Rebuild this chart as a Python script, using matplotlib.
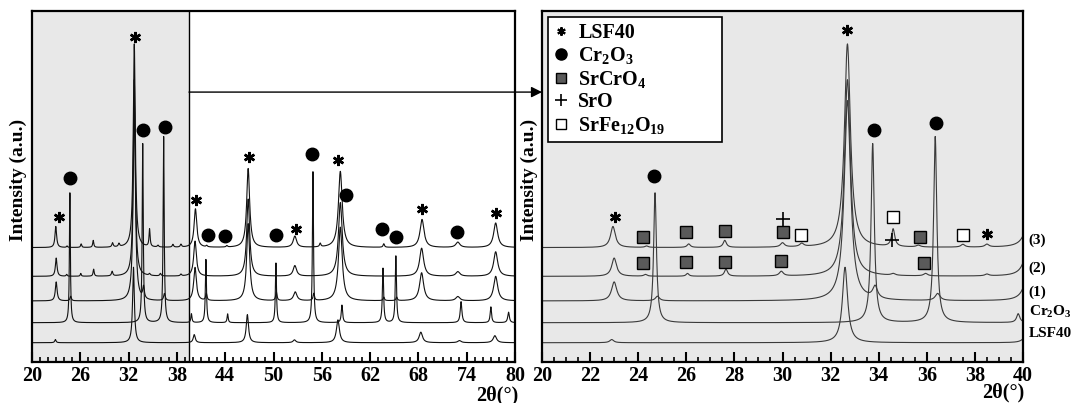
import matplotlib
matplotlib.use("Agg")
import matplotlib.pyplot as plt
import numpy as np
from matplotlib.lines import Line2D

plt.rcParams['font.family'] = ['Liberation Serif', 'DejaVu Serif']
plt.rcParams['font.weight'] = 'bold'
plt.rcParams['mathtext.fontset'] = 'custom'
plt.rcParams['mathtext.rm'] = 'Liberation Serif:bold'
plt.rcParams['mathtext.it'] = 'Liberation Serif:bold'
plt.rcParams['mathtext.bf'] = 'Liberation Serif:bold'
plt.rcParams['mathtext.default'] = 'rm'

# ---- peak lists for each pattern (position 2theta, height a.u., half width) ----
lsf_pos = [22.9, 32.6, 40.15, 46.75, 52.6, 58.0, 68.3, 73.1, 77.5]
lsf_h = [0.9, 21.5, 2.3, 8.0, 0.8, 6.5, 3.0, 0.6, 2.0]
lsf_w = [0.1, 0.13, 0.15, 0.17, 0.2, 0.22, 0.25, 0.25, 0.25]

cr_pos = [24.7, 33.75, 36.35, 39.8, 41.6, 44.3, 50.3, 54.9, 58.5, 63.6, 65.2, 73.3, 77.0, 79.2]
cr_h = [37, 51, 53, 2.5, 18, 2.5, 17, 43, 5, 15.5, 19, 6, 4.5, 3]
cr_w = [0.07, 0.08, 0.08, 0.08, 0.08, 0.08, 0.08, 0.08, 0.1, 0.09, 0.09, 0.12, 0.1, 0.12]

s1_pos = [23.0, 24.8, 32.7, 33.85, 36.45, 40.25, 41.65, 46.85, 50.35, 52.7, 55.0, 58.3, 63.7, 65.3, 68.4, 72.9, 77.6]
s1_h = [5.4, 1.3, 57, 3.4, 2.0, 9.5, 2.0, 22, 2.5, 2.5, 2.0, 21, 1.0, 1.0, 8, 1.2, 7]
s1_w = [0.13, 0.1, 0.16, 0.12, 0.12, 0.2, 0.1, 0.22, 0.1, 0.25, 0.1, 0.28, 0.1, 0.1, 0.3, 0.3, 0.3]

s2_pos = [23.0, 24.3, 26.05, 27.65, 29.95, 32.7, 34.6, 35.95, 38.5, 40.25, 46.85, 52.65, 58.3, 68.4, 72.9, 77.6]
s2_h = [5.2, 0.5, 0.8, 2.0, 1.3, 56, 0.5, 0.7, 0.5, 10, 22, 3, 21, 8, 1.3, 7]
s2_w = [0.12, 0.08, 0.07, 0.08, 0.1, 0.15, 0.1, 0.1, 0.1, 0.2, 0.22, 0.25, 0.28, 0.3, 0.3, 0.3]

s3_pos = [22.95, 24.35, 26.1, 27.6, 30.0, 30.8, 32.7, 34.6, 35.65, 37.5, 38.5, 40.3, 41.7, 44.2,
          46.85, 52.65, 55.8, 58.3, 63.7, 68.45, 72.9, 77.6]
s3_h = [6.0, 0.4, 1.0, 2.0, 1.2, 0.9, 58, 5.0, 0.5, 0.8, 0.8, 11, 0.4, 0.4,
        22.5, 3.2, 1.0, 21.7, 1.0, 8, 1.5, 7]
s3_w = [0.12, 0.08, 0.08, 0.08, 0.1, 0.1, 0.15, 0.08, 0.1, 0.1, 0.1, 0.2, 0.1, 0.1,
        0.22, 0.25, 0.1, 0.28, 0.1, 0.3, 0.3, 0.3]

offsets = [5.5, 11.2, 17.4, 24.4, 32.6]
trace_labels = ['LSF40', 'Cr$_2$O$_3$', '(1)', '(2)', '(3)']
label_y = [8.0, 14.2, 19.9, 26.8, 34.8]

# ---- phase markers (2theta, height) ----
L_star = [(23.3, 41.3), (32.8, 92.6), (40.4, 46.2), (46.9, 58.4), (52.8, 37.9),
          (58.0, 57.5), (68.4, 43.6), (77.6, 42.5)]
L_circ = [(24.7, 52.4), (33.8, 66.1), (36.5, 67.0), (41.8, 36.2), (44.0, 35.9), (50.3, 36.2),
          (54.8, 59.3), (59.0, 47.6), (63.5, 37.9), (65.2, 35.6), (72.8, 37.0)]
R_star = [(23.05, 41.3), (32.7, 94.6), (38.5, 36.5)]
R_circ = [(24.66, 53.0), (33.8, 66.1), (36.4, 68.1)]
R_sq = [(24.2, 35.6), (26.0, 37.0), (27.6, 37.3), (30.0, 37.0), (35.7, 35.6),
        (24.2, 28.2), (26.0, 28.5), (27.6, 28.5), (29.95, 28.8), (35.9, 28.2)]
R_plus = [(30.0, 40.7), (34.55, 34.8)]
R_open = [(30.75, 36.2), (34.6, 41.3), (37.5, 36.2)]

patterns = [(lsf_pos, lsf_h, lsf_w), (cr_pos, cr_h, cr_w), (s1_pos, s1_h, s1_w),
            (s2_pos, s2_h, s2_w), (s3_pos, s3_h, s3_w)]

x = np.arange(20, 80.001, 0.01)


def profile(pos, h, w):
    y = np.zeros_like(x)
    for p, a, g in zip(pos, h, w):
        y += a / (1 + ((x - p) / g) ** 2)
    return y


spectra = [profile(*p) + off for p, off in zip(patterns, offsets)]

grey = '#e8e8e8'
fig = plt.figure(figsize=(10.72, 4.03), dpi=100)
ax1 = fig.add_axes([0.0299, 0.1017, 0.4505, 0.871])
ax2 = fig.add_axes([0.5056, 0.1017, 0.4487, 0.871])
ax2.set_facecolor(grey)
ax1.axvspan(20, 39.5, color=grey, lw=0, zorder=0)
ax1.axvline(39.5, color='black', lw=1, zorder=1)

for s in spectra:
    ax1.plot(x, s, color='#111111', lw=0.8, zorder=2)
    ax2.plot(x, s, color='#3a3a3a', lw=0.8, zorder=2)

star_kw = dict(marker=(6, 2, 0), ms=8, mew=1.8, color='black', ls='none', zorder=4)
circ_kw = dict(marker='o', ms=9, color='black', ls='none', zorder=4)
sq_kw = dict(marker='s', ms=8, mfc='#5a5a5a', mec='black', mew=1, ls='none', zorder=4)
plus_kw = dict(marker='+', ms=10, mew=1.2, color='black', ls='none', zorder=4)
open_kw = dict(marker='s', ms=8, mfc='white', mec='black', mew=1, ls='none', zorder=4)

ax1.plot(*zip(*L_star), **star_kw)
ax1.plot(*zip(*L_circ), **circ_kw)
ax2.plot(*zip(*R_star), **star_kw)
ax2.plot(*zip(*R_circ), **circ_kw)
ax2.plot(*zip(*R_sq), **sq_kw)
ax2.plot(*zip(*R_plus), **plus_kw)
ax2.plot(*zip(*R_open), **open_kw)

ax1.set_xlim(20, 80)
ax2.set_xlim(20, 40)
for ax, major, minor in [(ax1, 6, 1), (ax2, 2, 0.5)]:
    ax.set_ylim(0, 100)
    ax.set_yticks([])
    ax.set_xticks(np.arange(ax.get_xlim()[0], ax.get_xlim()[1] + 0.01, major))
    ax.set_xticks(np.arange(ax.get_xlim()[0], ax.get_xlim()[1] + 0.01, minor), minor=True)
    ax.tick_params(axis='x', which='major', direction='in', length=7, width=1.5,
                   labelsize=14.5, pad=3)
    ax.tick_params(axis='x', which='minor', direction='in', length=3.5, width=1.2)
    ax.xaxis.set_major_formatter(matplotlib.ticker.FormatStrFormatter('%d'))
    for sp in ax.spines.values():
        sp.set_linewidth(1.6)
    ax.set_ylabel('Intensity (a.u.)', fontsize=14, fontweight='bold')
ax1.yaxis.set_label_coords(-0.010, 0.52)
ax2.yaxis.set_label_coords(-0.008, 0.52)

ax1.text(0.963, -0.094, '2θ(°)', transform=ax1.transAxes, ha='center', va='center', fontsize=14.5)
ax2.text(0.958, -0.088, '2θ(°)', transform=ax2.transAxes, ha='center', va='center', fontsize=14.5)

for lab, yy in zip(trace_labels, label_y):
    ax2.text(1.012, yy, lab, transform=ax2.get_yaxis_transform(), ha='left', va='center',
             fontsize=11, clip_on=False)

# zoom arrow from grey region to right panel
ax1.annotate('', xy=(20, 76.9), xycoords=ax2.transData, xytext=(39.5, 76.9),
             textcoords=ax1.transData,
             arrowprops=dict(arrowstyle='-|>', color='black', lw=1, mutation_scale=16,
                             shrinkA=0, shrinkB=0))

handles = [Line2D([], [], marker=(6, 2, 0), ms=6, mew=1.5, color='black', ls='none'),
           Line2D([], [], marker='o', ms=8, color='black', ls='none'),
           Line2D([], [], marker='s', ms=7, mfc='#5a5a5a', mec='black', ls='none'),
           Line2D([], [], marker='+', ms=9, mew=1.2, color='black', ls='none'),
           Line2D([], [], marker='s', ms=7, mfc='white', mec='black', ls='none')]
leg = ax2.legend(handles, ['LSF40', 'Cr$_2$O$_3$', 'SrCrO$_4$', 'SrO', 'SrFe$_{12}$O$_{19}$'],
                 loc='upper left', bbox_to_anchor=(0.0125, 0.983, 0.362, 0.0), mode='expand',
                 borderaxespad=0, fontsize=14.5, fancybox=False, edgecolor='black',
                 framealpha=1, handlelength=0.7, handletextpad=0.5, labelspacing=0.12,
                 borderpad=0.3)
leg.get_frame().set_linewidth(1.2)

fig.savefig('out.png', dpi=100)
